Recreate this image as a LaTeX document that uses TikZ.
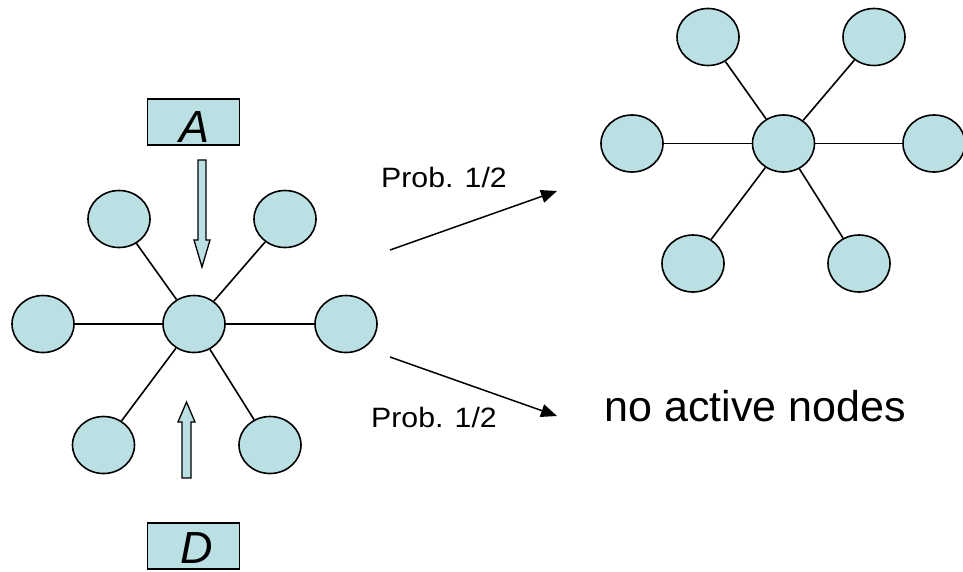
\documentclass[tikz,border=0pt]{standalone}
\usepackage{fontspec}
\setmainfont{Liberation Sans}
\usetikzlibrary{shapes.geometric,arrows.meta}
\definecolor{nodefill}{RGB}{187,224,227}
\begin{document}
\begin{tikzpicture}[x=1pt,y=-1pt,
  vertex/.style={ellipse,draw=black,line width=1.6pt,fill=nodefill,
    minimum width=62pt,minimum height=57pt,inner sep=0pt},
  edge/.style={line width=1.6pt},
  label box/.style={draw=black,line width=1.5pt,fill=nodefill,
    minimum width=92pt,minimum height=46pt,inner sep=0pt},
  box letter/.style={anchor=base,inner sep=0pt,font=\fontsize{45}{45}\selectfont\itshape},
  block arrow/.style={draw=black,line width=1.3pt,fill=nodefill,line join=miter},
  prob arrow/.style={line width=1.5pt,-{Triangle[length=16pt,width=13pt]}},
  prob label/.style={anchor=base,inner sep=0pt,font=\fontsize{28}{28}\selectfont}]
\useasboundingbox (0,0) rectangle (963,571);

% left star
\node[vertex] (lc)  at (194,324) {};
\node[vertex] (lul) at (119,219) {};
\node[vertex] (lur) at (285,219) {};
\node[vertex] (ll)  at (43,324) {};
\node[vertex] (lr)  at (346,324) {};
\node[vertex] (lll) at (103.5,445) {};
\node[vertex] (llr) at (270,445) {};
\foreach \n in {lul,lur,ll,lr,lll,llr} \draw[edge] (lc) -- (\n);

% right star
\node[vertex] (rc)  at (783.5,143.5) {};
\node[vertex] (rul) at (708,37) {};
\node[vertex] (rur) at (874,37) {};
\node[vertex] (rl)  at (632,143.5) {};
\node[vertex] (rr)  at (934,143.5) {};
\node[vertex] (rll) at (693,263.5) {};
\node[vertex] (rlr) at (859,263.5) {};
\foreach \n in {rul,rur,rl,rr,rll,rlr} \draw[edge] (rc) -- (\n);

% boxes A and D
\node[label box] (boxA) at (193.5,122) {};
\node[box letter] (txtA) at (195,142) {A};
\node[label box] (boxD) at (193.5,546) {};
\node[box letter] (txtD) at (197,563) {D};

% block arrows towards the centre
\draw[block arrow] (198,160) -- (206,160) -- (206,240) -- (210,240) -- (202,267)
  -- (194,240) -- (198,240) -- cycle;
\draw[block arrow] (182,478) -- (191,478) -- (191,422) -- (195,422) -- (186.5,402)
  -- (178,422) -- (182,422) -- cycle;

% branching arrows
\coordinate (upS) at (390,250);
\coordinate (upE) at (557,191);
\coordinate (dnS) at (390,357);
\coordinate (dnE) at (557,416);
\draw[prob arrow] (upS) -- (upE);
\draw[prob arrow] (dnS) -- (dnE);
\node[prob label] (pu) at (444,187) {\scalebox{1.08}[1]{Prob. 1/2}};
\node[prob label] (pd) at (434,427) {\scalebox{1.08}[1]{Prob. 1/2}};

\node[anchor=base,inner sep=0pt,font=\fontsize{43}{43}\selectfont] (none) at (755,421) {no active nodes};
\end{tikzpicture}
\end{document}
